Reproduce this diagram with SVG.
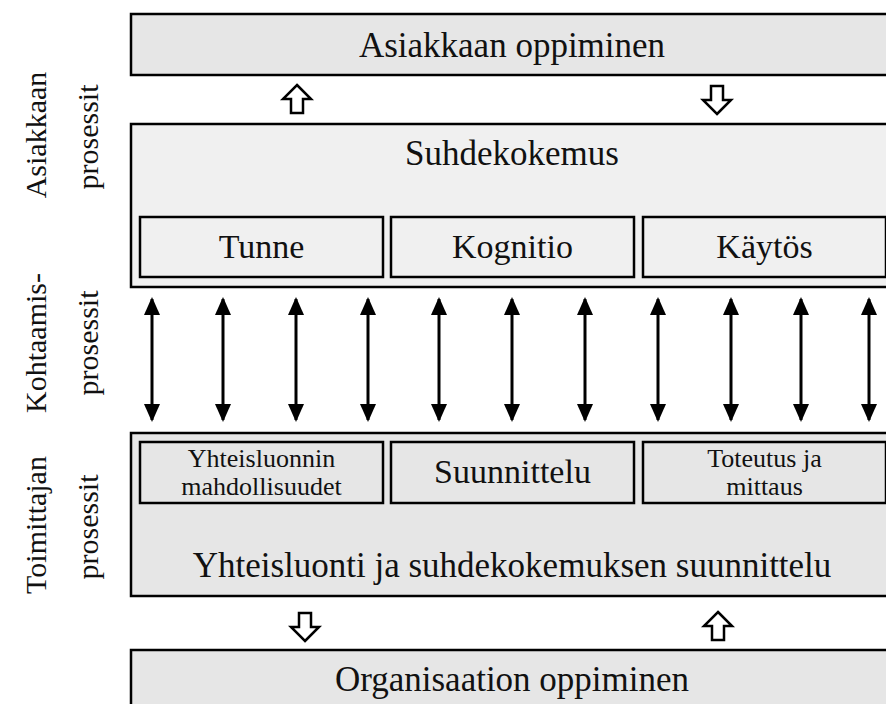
<svg xmlns="http://www.w3.org/2000/svg" width="886" height="704" viewBox="0 0 886 704">
<style>
text{font-family:"Liberation Serif","Times New Roman",serif;fill:#111;text-anchor:middle}
.big{font-size:35px}
.mid{font-size:34px}
.small{font-size:26px}
.side{font-size:30px}
.box{stroke:#000;stroke-width:2.5}
.g1{fill:#e6e6e6}
.g2{fill:#f0f0f0}
.hollow{fill:#fff;stroke:#000;stroke-width:2.5;stroke-linejoin:miter}
.dbl{stroke:#000;stroke-width:3;marker-start:url(#ah);marker-end:url(#ah)}
</style>
<defs>
<marker id="ah" markerUnits="userSpaceOnUse" markerWidth="18" markerHeight="16" refX="16" refY="8" orient="auto-start-reverse" viewBox="0 0 18 16">
<path d="M0,0 L18,8 L0,16 Z" fill="#000"/>
</marker>
</defs>
<rect width="886" height="704" fill="#fff"/>

<g id="labels">
<text class="side" transform="translate(46,135) rotate(-90)">Asiakkaan</text>
<text class="side" transform="translate(98,137) rotate(-90)">prosessit</text>
<text class="side" transform="translate(46,343) rotate(-90)">Kohtaamis-</text>
<text class="side" transform="translate(98,343) rotate(-90)">prosessit</text>
<text class="side" transform="translate(46,525) rotate(-90)">Toimittajan</text>
<text class="side" transform="translate(98,527) rotate(-90)">prosessit</text>
</g>

<g id="asiakkaan-oppiminen">
<rect class="box g1" x="131" y="14" width="770" height="61"/>
<text class="big" x="512" y="57">Asiakkaan oppiminen</text>
</g>

<g id="suhdekokemus">
<rect class="box g2" x="131" y="124" width="770" height="163"/>
<text class="big" x="512" y="165">Suhdekokemus</text>
</g>
<g id="tunne">
<rect class="box g2" x="140" y="217" width="243" height="60"/>
<text class="mid" x="261.5" y="258">Tunne</text>
</g>
<g id="kognitio">
<rect class="box g2" x="391" y="217" width="243" height="60"/>
<text class="mid" x="512.5" y="258">Kognitio</text>
</g>
<g id="kaytos">
<rect class="box g2" x="643" y="217" width="243" height="60"/>
<text class="mid" x="764.5" y="258">Käytös</text>
</g>

<g id="yhteisluonti">
<rect class="box g1" x="131" y="433" width="770" height="163"/>
<text class="big" x="512" y="577">Yhteisluonti ja suhdekokemuksen suunnittelu</text>
</g>
<g id="mahdollisuudet">
<rect class="box g1" x="140" y="442" width="243" height="61"/>
<text class="small" x="261.5" y="467">Yhteisluonnin</text>
<text class="small" x="261.5" y="495">mahdollisuudet</text>
</g>
<g id="suunnittelu">
<rect class="box g1" x="391" y="442" width="243" height="61"/>
<text class="mid" x="512.5" y="483">Suunnittelu</text>
</g>
<g id="toteutus">
<rect class="box g1" x="643" y="442" width="243" height="61"/>
<text class="small" x="764.5" y="467">Toteutus ja</text>
<text class="small" x="764.5" y="495">mittaus</text>
</g>

<g id="organisaation-oppiminen">
<rect class="box g1" x="131" y="650" width="770" height="70"/>
<text class="big" x="512" y="691">Organisaation oppiminen</text>
</g>

<g id="connectors">
<path class="hollow" d="M297,85 L311,99 L303,99 L303,113 L291,113 L291,99 L283,99 Z"/>
<path class="hollow" d="M717,114 L731,100 L723,100 L723,86 L711,86 L711,100 L703,100 Z"/>
<path class="hollow" d="M305,641 L319,627 L311,627 L311,613 L299,613 L299,627 L291,627 Z"/>
<path class="hollow" d="M718,612 L732,626 L724,626 L724,640 L712,640 L712,626 L704,626 Z"/>
<line class="dbl" x1="152" y1="299" x2="152" y2="420"/>
<line class="dbl" x1="223" y1="299" x2="223" y2="420"/>
<line class="dbl" x1="296" y1="299" x2="296" y2="420"/>
<line class="dbl" x1="368" y1="299" x2="368" y2="420"/>
<line class="dbl" x1="439" y1="299" x2="439" y2="420"/>
<line class="dbl" x1="512" y1="299" x2="512" y2="420"/>
<line class="dbl" x1="585" y1="299" x2="585" y2="420"/>
<line class="dbl" x1="658" y1="299" x2="658" y2="420"/>
<line class="dbl" x1="731" y1="299" x2="731" y2="420"/>
<line class="dbl" x1="801" y1="299" x2="801" y2="420"/>
<line class="dbl" x1="869" y1="299" x2="869" y2="420"/>
</g>
</svg>
